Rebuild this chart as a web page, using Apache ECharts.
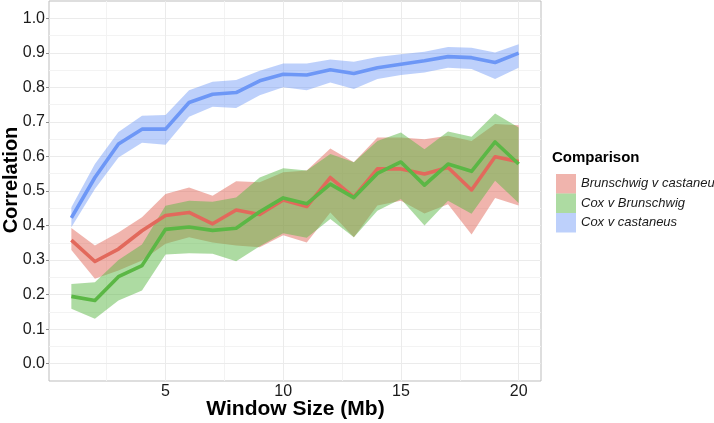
<!DOCTYPE html>
<html>
<head>
<meta charset="utf-8">
<script src="https://cdn.jsdelivr.net/npm/echarts@6/dist/echarts.min.js"></script>
<style>
html,body{margin:0;padding:0;background:#fff;}
#chart{width:714px;height:423px;}
</style>
</head>
<body>
<div id="chart"></div>
<script>
// ---- data ----
const windowSize = [1,2,3,4,5,6,7,8,9,10,11,12,13,14,15,16,17,18,19,20];

const brunCastMean  = [0.358,0.296,0.332,0.385,0.429,0.438,0.405,0.445,0.432,0.474,0.455,0.539,0.482,0.564,0.564,0.549,0.568,0.503,0.599,0.585];
const brunCastLower = [0.329,0.246,0.270,0.299,0.347,0.366,0.351,0.342,0.337,0.372,0.351,0.438,0.366,0.458,0.472,0.435,0.462,0.374,0.480,0.458];
const brunCastUpper = [0.393,0.342,0.380,0.424,0.491,0.510,0.486,0.528,0.525,0.554,0.559,0.623,0.583,0.655,0.655,0.650,0.660,0.645,0.694,0.690];

const coxBrunMean  = [0.195,0.183,0.252,0.284,0.389,0.396,0.386,0.392,0.440,0.480,0.463,0.520,0.481,0.551,0.584,0.517,0.578,0.557,0.642,0.578];
const coxBrunLower = [0.159,0.130,0.183,0.212,0.316,0.320,0.318,0.297,0.340,0.378,0.365,0.419,0.366,0.443,0.477,0.400,0.472,0.434,0.530,0.465];
const coxBrunUpper = [0.231,0.236,0.300,0.345,0.457,0.472,0.469,0.481,0.539,0.566,0.559,0.607,0.583,0.645,0.669,0.621,0.672,0.657,0.724,0.684];

const coxCastMean  = [0.422,0.539,0.636,0.679,0.679,0.756,0.780,0.785,0.819,0.838,0.836,0.851,0.840,0.857,0.867,0.877,0.889,0.886,0.872,0.899];
const coxCastLower = [0.395,0.506,0.597,0.640,0.634,0.715,0.744,0.740,0.777,0.800,0.792,0.814,0.795,0.824,0.836,0.843,0.857,0.853,0.824,0.857];
const coxCastUpper = [0.453,0.578,0.671,0.718,0.720,0.792,0.816,0.821,0.848,0.869,0.869,0.881,0.874,0.888,0.896,0.903,0.917,0.915,0.901,0.925];

const comparisonNames = ['Brunschwig v castaneus','Cox v Brunschwig','Cox v castaneus'];
const xTickValues = [5,10,15,20];
const yTickValues = [0,0.1,0.2,0.3,0.4,0.5,0.6,0.7,0.8,0.9,1.0];
const xMinorGrid = [2.5,7.5,12.5,17.5];
const yMinorGrid = [0.05,0.15,0.25,0.35,0.45,0.55,0.65,0.75,0.85,0.95];
const xTitle = 'Window Size (Mb)';
const yTitle = 'Correlation';
const legendTitle = 'Comparison';

// ---- styles ----
const lineColors = ['#E2695C','#5BB745','#6D97F6'];
const fillColors = ['rgba(226,105,92,0.5)','rgba(91,183,69,0.5)','rgba(109,151,246,0.45)'];
const FONT = '"Liberation Sans", Arial, Helvetica, sans-serif';

const pairs = (ys) => windowSize.map((x,i)=>[x, ys[i]]);

const bands = [
  [brunCastLower, brunCastUpper],
  [coxBrunLower, coxBrunUpper],
  [coxCastLower, coxCastUpper]
];
const means = [brunCastMean, coxBrunMean, coxCastMean];

const gridLines = [];
xMinorGrid.forEach(v=>gridLines.push({xAxis:v, lineStyle:{color:'#F3F3F3', width:1, type:'solid'}}));
yMinorGrid.forEach(v=>gridLines.push({yAxis:v, lineStyle:{color:'#F3F3F3', width:1, type:'solid'}}));
xTickValues.forEach(v=>gridLines.push({xAxis:v, lineStyle:{color:'#EBEBEB', width:1, type:'solid'}}));
yTickValues.forEach(v=>gridLines.push({yAxis:v, lineStyle:{color:'#EBEBEB', width:1, type:'solid'}}));

const series = [];
// helper series carrying the panel grid lines
series.push({
  name: 'grid', type: 'line', data: pairs(brunCastMean), symbol: 'none', silent: true, z: 1,
  lineStyle: {opacity: 0, width: 0},
  markLine: {silent: true, symbol: ['none','none'], label: {show: false}, z: 1, animation: false, data: gridLines}
});
// ribbons
bands.forEach((b, k) => {
  series.push({
    name: comparisonNames[k], type: 'custom', z: 3, silent: true,
    itemStyle: {color: fillColors[k]},
    data: [[k]],
    encode: {x: -1, y: -1},
    renderItem: (params, api) => {
      const lo = b[0], hi = b[1];
      const pts = [];
      for (let i = 0; i < windowSize.length; i++) pts.push(api.coord([windowSize[i], hi[i]]));
      for (let i = windowSize.length - 1; i >= 0; i--) pts.push(api.coord([windowSize[i], lo[i]]));
      return {type: 'polygon', shape: {points: pts}, style: {fill: fillColors[k], stroke: null}};
    }
  });
});
// mean lines
means.forEach((m, k) => {
  series.push({
    name: comparisonNames[k] + ' line', type: 'line', data: pairs(m),
    symbol: 'none', z: 4, silent: true,
    lineStyle: {color: lineColors[k], width: 3.6, join: 'round'},
    itemStyle: {color: lineColors[k]}
  });
});

const chart = echarts.init(document.getElementById('chart'), null, {renderer: 'canvas'});
chart.setOption({
  animation: false,
  backgroundColor: '#ffffff',
  grid: {left: 49, right: 173, top: 1, bottom: 42, show: true, borderColor: '#BDBDBD', borderWidth: 1, backgroundColor: '#ffffff', containLabel: false},
  xAxis: {
    type: 'value', min: 0.05, max: 20.95,
    axisLine: {show: false},
    splitLine: {show: false},
    axisTick: {show: true, length: 3, customValues: xTickValues, lineStyle: {color: '#8C8C8C'}},
    axisLabel: {customValues: xTickValues, margin: 3, fontSize: 16, color: '#1a1a1a', fontFamily: FONT}
  },
  yAxis: {
    type: 'value', min: -0.05, max: 1.05,
    axisLine: {show: false},
    splitLine: {show: false},
    axisTick: {show: true, length: 3, customValues: yTickValues, lineStyle: {color: '#8C8C8C'}},
    axisLabel: {customValues: yTickValues, margin: 4, fontSize: 16, color: '#1a1a1a', fontFamily: FONT,
      formatter: v => v.toFixed(1)}
  },
  legend: {
    orient: 'vertical', left: 551, top: 169, itemWidth: 20, itemHeight: 19.5, itemGap: 0,
    icon: 'rect', selectedMode: false,
    textStyle: {fontStyle: 'italic', fontSize: 13, color: '#1a1a1a', fontFamily: FONT},
    data: comparisonNames.map((n,k)=>({name: n, icon: 'rect', itemStyle: {color: fillColors[k], borderWidth: 0}}))
  },
  graphic: [
    {type: 'text', x: 295.5, y: 409, style: {text: xTitle, font: 'bold 21px ' + FONT, fill: '#000', align: 'center', verticalAlign: 'middle'}},
    {type: 'text', x: 11, y: 180, rotation: Math.PI/2, style: {text: yTitle, font: 'bold 20px ' + FONT, fill: '#000', align: 'center', verticalAlign: 'middle'}},
    {type: 'text', x: 552, y: 158, style: {text: legendTitle, font: 'bold 15px ' + FONT, fill: '#000', align: 'left', verticalAlign: 'middle'}}
  ],
  series: series
});
</script>
</body>
</html>
